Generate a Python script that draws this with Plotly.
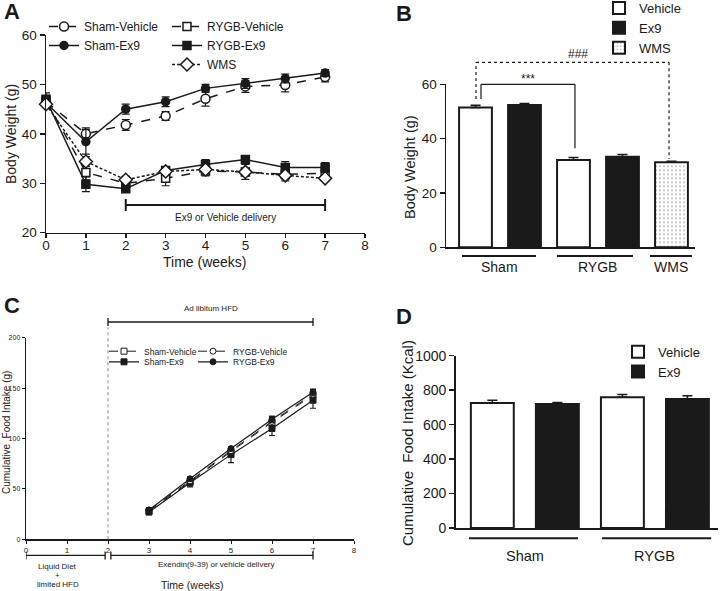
import plotly.graph_objects as go

W, H = 720, 591
FONT = "Arial, Liberation Sans, Helvetica, sans-serif"
INK = "#1a1a1a"

# ---------------- Panel A: body weight over time ----------------
weeks_a = [0, 1, 2, 3, 4, 5, 6, 7]
a_sham_veh = [46.5, 40.0, 41.8, 43.6, 47.1, 49.6, 49.9, 51.5]
a_sham_veh_err = [1.0, 1.2, 1.1, 0.9, 1.5, 1.2, 1.4, 1.0]
a_sham_ex9 = [46.3, 38.4, 45.0, 46.5, 49.2, 50.2, 51.2, 52.3]
a_sham_ex9_err = [1.2, 2.5, 1.0, 1.0, 0.8, 1.0, 0.9, 0.7]
a_rygb_veh = [46.8, 32.2, 30.0, 31.0, 32.5, 32.3, 31.8, 32.0]
a_rygb_veh_err = [1.0, 1.5, 0.8, 1.5, 1.0, 1.5, 1.3, 1.0]
a_rygb_ex9 = [47.0, 29.8, 28.9, 32.6, 33.8, 34.8, 33.2, 33.2]
a_rygb_ex9_err = [1.3, 1.5, 0.5, 0.6, 1.0, 0.6, 1.2, 1.0]
a_wms = [46.0, 34.4, 30.7, 32.4, 32.8, 32.3, 31.6, 31.0]
a_wms_err = [0.8, 1.0, 0.7, 0.7, 0.7, 0.8, 0.7, 0.6]
a_ticks_x = [0, 1, 2, 3, 4, 5, 6, 7, 8]
a_ticks_y = [20, 30, 40, 50, 60]
a_bracket = [2, 7]  # Ex9 or Vehicle delivery (weeks)

# ---------------- Panel B: final body weight ----------------
b_vehicle_pos = [0, 2]
b_vehicle = [51.5, 32.1]
b_vehicle_err = [0.8, 1.0]
b_ex9_pos = [1, 3]
b_ex9 = [52.4, 33.3]
b_ex9_err = [0.5, 0.9]
b_wms_pos = [4]
b_wms = [31.3]
b_wms_err = [0.4]
b_groups = ["Sham", "RYGB", "WMS"]
b_group_center = [0.5, 2.5, 4.0]
b_group_span = [(-0.276, 1.235), (1.663, 3.214), (3.56, 4.418)]
b_ticks_y = [0, 20, 40, 60]

# ---------------- Panel C: cumulative food intake ----------------
weeks_c = [3, 4, 5, 6, 7]
c_sham_veh = [28, 57, 87, 116, 143]
c_sham_veh_err = [2, 3, 3, 4, 4]
c_sham_ex9 = [27, 56, 84, 110, 138]
c_sham_ex9_err = [2, 4, 8, 7, 8]
c_rygb_veh = [29, 58, 88, 117, 144]
c_rygb_veh_err = [2, 3, 3, 5, 4]
c_rygb_ex9 = [29, 60, 90, 119, 146]
c_rygb_ex9_err = [2, 2, 2, 3, 3]
c_ticks_x = [0, 1, 2, 3, 4, 5, 6, 7, 8]
c_ticks_y = [0, 50, 100, 150, 200]

# ---------------- Panel D: cumulative food intake (Kcal) ----------------
d_vehicle_pos = [0, 2]
d_vehicle = [725, 759]
d_vehicle_err = [16, 16]
d_ex9_pos = [1, 3]
d_ex9 = [720, 749]
d_ex9_err = [8, 18]
d_groups = ["Sham", "RYGB"]
d_group_center = [0.5, 2.5]
d_group_span = [(-0.358, 1.318), (1.688, 3.365)]
d_ticks_y = [0, 200, 400, 600, 800, 1000]


def px(x):
    return x / W


def py(y):
    return 1 - y / H


dom = {
    "A": ([px(46), px(365)], [py(232.7), py(35)]),
    "B": ([px(446), px(695)], [py(247.3), py(84.3)]),
    "C": ([px(26), px(354)], [py(539.3), py(337.7)]),
    "D": ([px(455.7), px(718)], [py(528), py(355.7)]),
}

fig = go.Figure()

LW = 1.5


def err(arr, width=4, th=1.2):
    return dict(type="data", array=arr, color=INK, thickness=th, width=width, visible=True)


def line_trace(x, y, e, name, symbol, filled, dash, size, xa, ya, legend, lw=LW, ew=4, mlw=1.5):
    return go.Scatter(
        x=x, y=y, name=name, mode="lines+markers", xaxis=xa, yaxis=ya, legend=legend,
        line=dict(color=INK, width=lw, dash=dash),
        marker=dict(symbol=symbol, size=size, color=INK if filled else "white",
                    line=dict(color=INK, width=mlw)),
        error_y=err(e, ew), cliponaxis=False,
    )


# Panel A traces
fig.add_trace(line_trace(weeks_a, a_sham_veh, a_sham_veh_err, "Sham-Vehicle", "circle", False, "dash", 9, "x", "y", "legend"))
fig.add_trace(line_trace(weeks_a, a_sham_ex9, a_sham_ex9_err, "Sham-Ex9", "circle", True, "solid", 8, "x", "y", "legend"))
fig.add_trace(line_trace(weeks_a, a_rygb_veh, a_rygb_veh_err, "RYGB-Vehicle", "square", False, "dash", 8, "x", "y", "legend2"))
fig.add_trace(line_trace(weeks_a, a_rygb_ex9, a_rygb_ex9_err, "RYGB-Ex9", "square", True, "solid", 8, "x", "y", "legend2"))
fig.add_trace(line_trace(weeks_a, a_wms, a_wms_err, "WMS", "diamond", False, "3px,2px", 10, "x", "y", "legend2"))


def bar_err(arr):
    return dict(type="data", array=arr, arrayminus=[0] * len(arr), symmetric=False,
                color=INK, thickness=1.5, width=5, visible=True)


# Panel B bars
fig.add_trace(go.Bar(x=b_vehicle_pos, y=b_vehicle, name="Vehicle", width=0.67, xaxis="x2", yaxis="y2",
                     legend="legend3", marker=dict(color="white", line=dict(color=INK, width=2)),
                     error_y=bar_err(b_vehicle_err)))
fig.add_trace(go.Bar(x=b_ex9_pos, y=b_ex9, name="Ex9", width=0.67, xaxis="x2", yaxis="y2",
                     legend="legend3", marker=dict(color=INK, line=dict(color=INK, width=2)),
                     error_y=bar_err(b_ex9_err)))
fig.add_trace(go.Bar(x=b_wms_pos, y=b_wms, name="WMS", width=0.67, xaxis="x2", yaxis="y2",
                     legend="legend3",
                     marker=dict(color="white", line=dict(color=INK, width=2),
                                 pattern=dict(shape=".", fgcolor="#777", bgcolor="white", size=4, solidity=0.2)),
                     error_y=bar_err(b_wms_err)))

# Panel C traces (one small legend per entry)
fig.add_trace(line_trace(weeks_c, c_sham_veh, c_sham_veh_err, "Sham-Vehicle", "square", False, "dash", 6, "x3", "y3", "legend4", lw=1, ew=3, mlw=1))
fig.add_trace(line_trace(weeks_c, c_sham_ex9, c_sham_ex9_err, "Sham-Ex9", "square", True, "solid", 6, "x3", "y3", "legend5", lw=1.2, ew=3, mlw=1))
fig.add_trace(line_trace(weeks_c, c_rygb_veh, c_rygb_veh_err, "RYGB-Vehicle", "circle", False, "dash", 6, "x3", "y3", "legend6", lw=1, ew=3, mlw=1))
fig.add_trace(line_trace(weeks_c, c_rygb_ex9, c_rygb_ex9_err, "RYGB-Ex9", "circle", True, "solid", 6, "x3", "y3", "legend7", lw=1.2, ew=3, mlw=1))

# Panel D bars
fig.add_trace(go.Bar(x=d_vehicle_pos, y=d_vehicle, name="Vehicle", width=0.66, xaxis="x4", yaxis="y4",
                     legend="legend8", marker=dict(color="white", line=dict(color=INK, width=2)),
                     error_y=bar_err(d_vehicle_err)))
fig.add_trace(go.Bar(x=d_ex9_pos, y=d_ex9, name="Ex9", width=0.66, xaxis="x4", yaxis="y4",
                     legend="legend8", marker=dict(color=INK, line=dict(color=INK, width=2)),
                     error_y=bar_err(d_ex9_err)))

ax_common = dict(showline=True, linecolor=INK, linewidth=LW, ticks="outside", tickcolor=INK,
                 tickwidth=LW, showgrid=False, zeroline=False, tickfont=dict(family=FONT, color=INK, size=13.5))

shapes = []
annotations = []


def seg(xref, yref, x0, y0, x1, y1, dash="solid", w=LW, color=INK):
    shapes.append(dict(type="line", xref=xref, yref=yref, x0=x0, y0=y0, x1=x1, y1=y1,
                       line=dict(color=color, width=w, dash=dash)))


def text(x, y, t, size, xref="paper", yref="paper", angle=0, bold=False, xanchor="center"):
    annotations.append(dict(x=x, y=y, xref=xref, yref=yref, text=f"<b>{t}</b>" if bold else t,
                            showarrow=False, textangle=angle, xanchor=xanchor, yanchor="middle",
                            font=dict(family=FONT, size=size, color=INK)))


# --- Panel A decorations ---
seg("x", "y", a_bracket[0], 25.6, a_bracket[1], 25.6, w=2)
seg("x", "y", a_bracket[0], 24.4, a_bracket[0], 26.8, w=2)
seg("x", "y", a_bracket[1], 24.4, a_bracket[1], 26.8, w=2)
text(4.5, 23.0, "Ex9 or Vehicle delivery", 10, xref="x", yref="y")
text(px(205), py(262), "Time (weeks)", 14)
text(px(11), py(134), "Body Weight (g)", 14, angle=-90)
text(px(12), py(12), "A", 22, bold=True)

# --- Panel B decorations ---
ylen_b = 60.0
for (s0, s1) in b_group_span:
    seg("x2", "y2 domain", s0, -0.053, s1, -0.053, w=2)
for name, c in zip(b_groups, b_group_center):
    text(c, py(267), name, 14, xref="x2")
# *** bracket (Sham-Vehicle vs RYGB-Vehicle)
seg("x2", "y2 domain", 0.112, 54.6 / ylen_b, 0.112, 60 / ylen_b, w=1.2)
seg("x2", "y2 domain", 0.112, 60 / ylen_b, 2.03, 60 / ylen_b, w=1.2)
seg("x2", "y2 domain", 2.03, 60 / ylen_b, 2.03, 36.5 / ylen_b, w=1.2)
text(1.07, 62.0 / ylen_b, "***", 12, xref="x2", yref="y2 domain")
# ### bracket (Sham-Vehicle vs WMS)
seg("x2", "y2 domain", 0.01, 54.6 / ylen_b, 0.01, 68.1 / ylen_b, dash="dot", w=1.2)
seg("x2", "y2 domain", 0.01, 68.1 / ylen_b, 3.95, 68.1 / ylen_b, dash="dot", w=1.2)
seg("x2", "y2 domain", 3.95, 68.1 / ylen_b, 3.95, 32.5 / ylen_b, dash="dot", w=1.2)
text(2.09, 71.3 / ylen_b, "###", 12, xref="x2", yref="y2 domain")
text(px(410), py(167), "Body Weight (g)", 14.5, angle=-90)
text(px(404), py(14), "B", 22, bold=True)

# --- Panel C decorations ---
seg("x3", "y3 domain", 2, 0, 2, 210 / 200, dash="dot", w=1.2, color="#999")
seg("x3", "y3 domain", 2, 1.078, 7, 1.078, w=1.3)
seg("x3", "y3 domain", 2, 1.058, 2, 1.098, w=1.3)
seg("x3", "y3 domain", 7, 1.058, 7, 1.098, w=1.3)
text(4.5, py(308), "Ad libitum HFD", 8, xref="x3")
seg("x3", "y3 domain", 0, -0.08, 1.93, -0.08, w=1.3)
seg("x3", "y3 domain", 0, -0.06, 0, -0.10, w=1.3)
seg("x3", "y3 domain", 1.93, -0.06, 1.93, -0.10, w=1.3)
seg("x3", "y3 domain", 2.07, -0.08, 7, -0.08, w=1.3)
seg("x3", "y3 domain", 2.07, -0.06, 2.07, -0.10, w=1.3)
seg("x3", "y3 domain", 7, -0.06, 7, -0.10, w=1.3)
text(4.65, py(564), "Exendin(9-39) or vehicle delivery", 8, xref="x3")
text(0.78, py(566), "Liquid Diet", 8, xref="x3")
text(0.78, py(575), "+", 8, xref="x3")
text(0.78, py(584), "limited HFD", 8, xref="x3")
text(4.07, py(585), "Time (weeks)", 10.5, xref="x3")
text(px(6), py(433), "Cumulative\u00a0 Food Intake (g)", 10, angle=-90)
text(px(12), py(305), "C", 22, bold=True)

# --- Panel D decorations ---
for (s0, s1) in d_group_span:
    seg("x4", "y4 domain", s0, -0.06, s1, -0.06, w=2)
for name, c in zip(d_groups, d_group_center):
    text(c, py(556), name, 14.5, xref="x4")
text(px(407), py(443), "Cumulative\u00a0 Food Intake (Kcal)", 15, angle=-90)
text(px(404), py(316), "D", 22, bold=True)

leg_common = dict(xanchor="left", yanchor="top", bgcolor="rgba(0,0,0,0)", tracegroupgap=0,
                  itemwidth=30, borderwidth=0)

ROW0 = 15  # offset from legend top to first row centre (px)
TXT0 = 40  # offset from legend left to entry text (px)


def leg(text_px, row_px, size):
    return dict(x=px(text_px - TXT0), y=py(row_px - ROW0),
                font=dict(family=FONT, size=size, color=INK), **leg_common)


fig.update_layout(
    width=W, height=H, margin=dict(l=0, r=0, t=0, b=0, autoexpand=False),
    paper_bgcolor="white", plot_bgcolor="white",
    font=dict(family=FONT, color=INK),
    barmode="overlay", showlegend=True,
    xaxis=dict(domain=dom["A"][0], anchor="y", range=[0, 8], tickvals=a_ticks_x, ticklen=4,
               ticklabelstandoff=-4, **ax_common),
    yaxis=dict(domain=dom["A"][1], anchor="x", range=[20, 60], tickvals=a_ticks_y, ticklen=5, **ax_common),
    xaxis2=dict(domain=dom["B"][0], anchor="y2", range=[-0.602, 4.48], showticklabels=False,
                **{**ax_common, "ticks": ""}),
    yaxis2=dict(domain=dom["B"][1], anchor="x2", range=[0, 60], tickvals=b_ticks_y, ticklen=5, **ax_common),
    xaxis3=dict(domain=dom["C"][0], anchor="y3", range=[0, 8], tickvals=c_ticks_x, ticklen=3,
                **{**ax_common, "tickfont": dict(family=FONT, color=INK, size=8), "linewidth": 1.3, "tickwidth": 1}),
    yaxis3=dict(domain=dom["C"][1], anchor="x3", range=[0, 200], tickvals=c_ticks_y, ticklen=3,
                **{**ax_common, "tickfont": dict(family=FONT, color=INK, size=7), "linewidth": 1.3, "tickwidth": 1}),
    xaxis4=dict(domain=dom["D"][0], anchor="y4", range=[-0.563, 3.47], showticklabels=False,
                **{**ax_common, "ticks": ""}),
    yaxis4=dict(domain=dom["D"][1], anchor="x4", range=[0, 1000], tickvals=d_ticks_y, ticklen=5,
                **{**ax_common, "tickfont": dict(family=FONT, color=INK, size=14)}),
    legend=leg(84, 27, 12),
    legend2=leg(207, 27, 12),
    legend3=leg(639, 8, 13),
    legend4=leg(144, 351.7, 8.5),
    legend5=leg(144, 362.3, 8.5),
    legend6=leg(233, 351.7, 8.5),
    legend7=leg(233, 362.3, 8.5),
    legend8=leg(658, 351.7, 13),
    shapes=shapes, annotations=annotations,
)

fig.write_html("out.html",
               config={"displayModeBar": False, "staticPlot": True},
               post_script="document.body.style.margin='0';document.body.style.overflow='hidden';")
